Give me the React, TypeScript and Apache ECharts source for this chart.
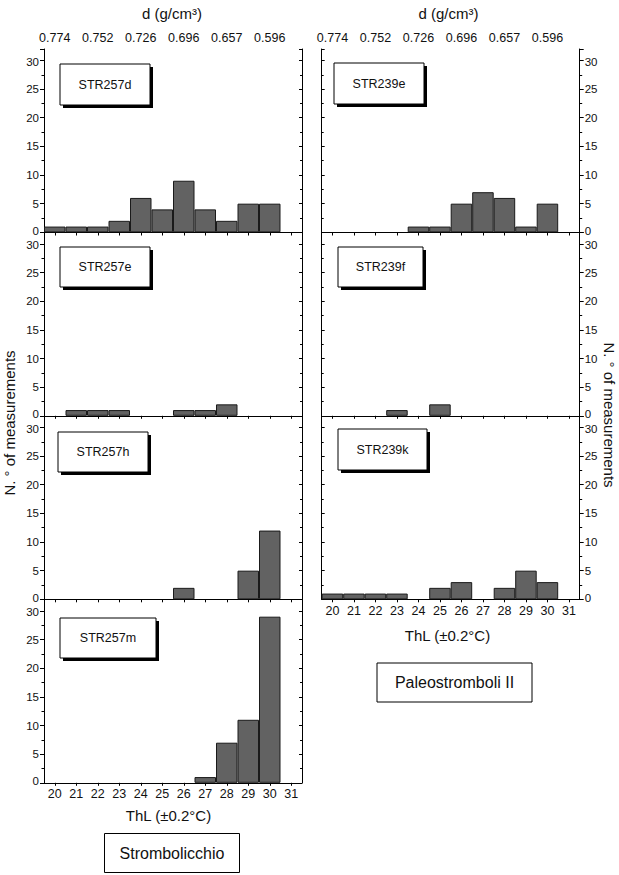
import React, { useEffect, useRef } from 'react';
import * as echarts from 'echarts';

// ThL bins (°C)
const categories = ['20', '21', '22', '23', '24', '25', '26', '27', '28', '29', '30', '31'];
// density labels shown on the top axis at ThL = 20, 22, 24, 26, 28, 30
const densityLabels = ['0.774', '0.752', '0.726', '0.696', '0.657', '0.596'];

// N. of measurements per ThL bin
const str257d = [1, 1, 1, 2, 6, 4, 9, 4, 2, 5, 5, 0];
const str257e = [0, 1, 1, 1, 0, 0, 1, 1, 2, 0, 0, 0];
const str257h = [0, 0, 0, 0, 0, 0, 2, 0, 0, 5, 12, 0];
const str257m = [0, 0, 0, 0, 0, 0, 0, 1, 7, 11, 29, 0];
const str239e = [0, 0, 0, 0, 1, 1, 5, 7, 6, 1, 5, 0];
const str239f = [0, 0, 0, 1, 0, 2, 0, 0, 0, 0, 0, 0];
const str239k = [1, 1, 1, 1, 0, 2, 3, 0, 2, 5, 3, 0];

const sampleNames = ['STR257d', 'STR257e', 'STR257h', 'STR257m', 'STR239e', 'STR239f', 'STR239k'];
const sampleData = [str257d, str257e, str257h, str257m, str239e, str239f, str239k];
const yTicks = [0, 5, 10, 15, 20, 25, 30];

const FONT = "'Liberation Sans', Arial, Helvetica, sans-serif";

export default function App() {
  const ref = useRef<HTMLDivElement>(null);

  useEffect(() => {
    if (!ref.current) return;
    const chart = echarts.init(ref.current, null, { renderer: 'svg' });

    const colLeft = [44, 321.7];
    const colWidth = 258;
    const rowTop = [49, 232.5, 416, 599.5];
    const rowHeight = 183.3;
    // column, row of each panel
    const layout = [
      [0, 0], [0, 1], [0, 2], [0, 3],
      [1, 0], [1, 1], [1, 2],
    ];
    const bottomRow = [3, 2];
    const boxes = [
      [60, 64, 90, 41],
      [60, 247, 90, 40],
      [58, 432, 90, 40],
      [60, 618, 96, 40],
      [334, 63, 90, 41],
      [338, 247, 85, 40],
      [338, 429, 89, 41],
    ];

    const grids: any[] = [];
    const xAxes: any[] = [];
    const yAxes: any[] = [];
    const series: any[] = [];
    const graphics: any[] = [];

    const yLabelRich = {
      lo: { fontSize: 11.5, fontFamily: FONT, color: '#111', padding: [0, 0, 3, 0] },
      hi: { fontSize: 11.5, fontFamily: FONT, color: '#111', padding: [3, 0, 0, 0] },
      n: { fontSize: 11.5, fontFamily: FONT, color: '#111' },
    };

    layout.forEach(([col, row], i) => {
      grids.push({
        left: colLeft[col],
        top: rowTop[row],
        width: colWidth,
        height: rowHeight,
        containLabel: false,
      });
      const isBottom = bottomRow[col] === row;
      const bottomIdx = xAxes.length;
      xAxes.push({
        type: 'category',
        gridIndex: i,
        data: categories,
        position: 'bottom',
        boundaryGap: true,
        axisLine: { show: true, onZero: false, lineStyle: { color: '#000', width: 1 } },
        axisTick: { show: true, inside: false, alignWithLabel: true, interval: 0, length: 3, lineStyle: { color: '#000', width: 1 } },
        axisLabel: { show: isBottom, interval: 0, color: '#111', fontSize: 12.5, fontFamily: FONT, margin: 5 },
        splitLine: { show: false },
      });
      if (row === 0) {
        xAxes.push({
          type: 'category',
          gridIndex: i,
          data: categories,
          position: 'top',
          offset: 2,
          boundaryGap: true,
          axisLine: { show: true, lineStyle: { color: '#000', width: 1 } },
          axisTick: { show: true, inside: true, alignWithLabel: true, interval: 0, length: 3, lineStyle: { color: '#000', width: 1 } },
          axisLabel: {
            show: true,
            interval: 1,
            color: '#111',
            fontSize: 12.5,
            fontFamily: FONT,
            margin: 3,
            formatter: (v: string) => densityLabels[(Number(v) - 20) / 2] ?? '',
          },
          splitLine: { show: false },
        });
      }
      const leftIdx = yAxes.length;
      const mkY = (pos: 'left' | 'right', labelled: boolean) => ({
        type: 'value',
        gridIndex: i,
        position: pos,
        min: 0,
        max: 32,
        interval: 5,
        axisLine: { show: true, lineStyle: { color: '#000', width: 1 } },
        axisTick: { show: true, inside: !labelled, length: labelled ? 4 : 3, lineStyle: { color: '#000', width: 1 } },
        minorTick: { show: true, splitNumber: 2, length: labelled ? 2.5 : 2, lineStyle: { color: '#000', width: 1 } },
        axisLabel: {
          show: labelled,
          showMaxLabel: false,
          color: '#111',
          fontSize: 11.5,
          fontFamily: FONT,
          margin: 5,
          rich: yLabelRich,
          formatter: (v: number) => {
            if (!yTicks.includes(v)) return '';
            if (v === 0) return `{lo|${v}}`;
            if (v === 30) return `{hi|${v}}`;
            return `{n|${v}}`;
          },
        },
        splitLine: { show: false },
        minorSplitLine: { show: false },
      });
      yAxes.push(mkY('left', col === 0));
      yAxes.push(mkY('right', col === 1));

      series.push({
        type: 'bar',
        name: sampleNames[i],
        xAxisIndex: bottomIdx,
        yAxisIndex: leftIdx,
        data: sampleData[i].map((v) => (v === 0 ? '-' : v)),
        barCategoryGap: '0%',
        itemStyle: { color: '#626262', borderColor: '#1a1a1a', borderWidth: 1 },
        z: 1,
      });

      const [bx, by, bw, bh] = boxes[i];
      graphics.push({
        type: 'rect',
        shape: { x: bx + 3, y: by + 3, width: bw, height: bh },
        style: { fill: '#000' },
        z: 10,
      });
      graphics.push({
        type: 'rect',
        shape: { x: bx, y: by, width: bw, height: bh },
        style: { fill: '#fff', stroke: '#000', lineWidth: 1 },
        z: 11,
      });
      graphics.push({
        type: 'text',
        x: bx + bw / 2,
        y: by + bh / 2,
        style: { text: sampleNames[i], fill: '#111', font: `12.5px ${FONT}`, align: 'center', verticalAlign: 'middle' },
        z: 12,
      });
    });

    // axis titles
    const title = (text: string, x: number, y: number, size: number, rotation = 0) => ({
      type: 'text',
      x,
      y,
      rotation,
      style: { text, fill: '#111', font: `${size}px ${FONT}`, align: 'center', verticalAlign: 'middle' },
      z: 12,
    });
    graphics.push(title('d (g/cm³)', 172, 13, 15));
    graphics.push(title('d (g/cm³)', 448.5, 13, 15));
    graphics.push(title('ThL (±0.2°C)', 168.5, 815, 15));
    graphics.push(title('ThL (±0.2°C)', 447.5, 635, 15));
    graphics.push(title('N. ° of measurements', 9, 423, 15, Math.PI / 2));
    graphics.push(title('N. ° of measurements', 609, 415, 15, -Math.PI / 2));

    // group boxes
    graphics.push({
      type: 'rect',
      shape: { x: 104.5, y: 833.5, width: 135, height: 39 },
      style: { fill: '#fff', stroke: '#000', lineWidth: 1 },
      z: 11,
    });
    graphics.push(title('Strombolicchio', 172, 853, 16));
    graphics.push({
      type: 'rect',
      shape: { x: 377, y: 663, width: 155, height: 39 },
      style: { fill: '#fff', stroke: '#000', lineWidth: 1 },
      z: 11,
    });
    graphics.push(title('Paleostromboli II', 454.5, 682.5, 16));

    chart.setOption({
      animation: false,
      backgroundColor: '#fff',
      textStyle: { fontFamily: FONT },
      grid: grids,
      xAxis: xAxes,
      yAxis: yAxes,
      series,
      graphic: graphics,
    });

    return () => chart.dispose();
  }, []);

  return (
    <div
      ref={ref}
      style={{ position: 'fixed', left: 0, top: 0, width: 619, height: 875, background: '#fff' }}
    />
  );
}
